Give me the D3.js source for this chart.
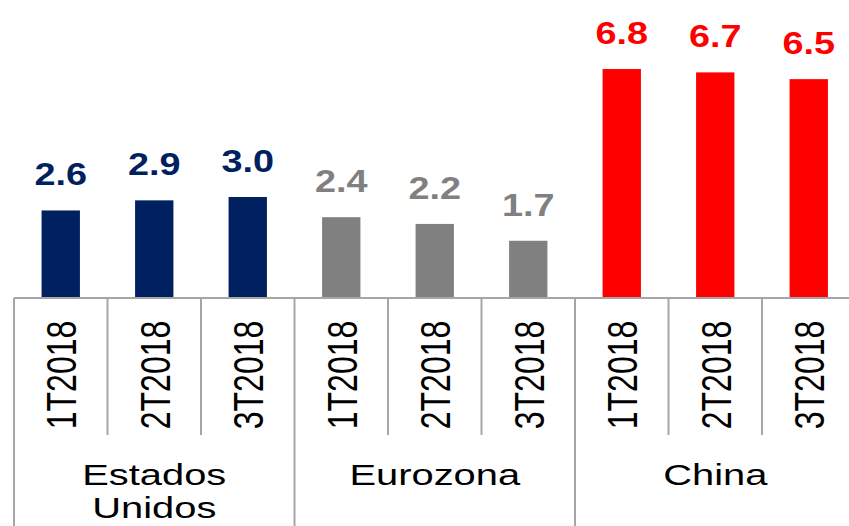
<!DOCTYPE html>
<html>
<head>
<meta charset="utf-8">
<script src="https://cdn.jsdelivr.net/npm/d3@7"></script>
<style>
  body { margin: 0; background: #fff; }
  svg { display: block; font-family: "Liberation Sans", Arial, sans-serif; }
</style>
</head>
<body>
<svg id="chart" width="849" height="526"></svg>
<script>
'use strict';
// data
var groups = ['Estados Unidos', 'Eurozona', 'China'];
var quarters = ['1T2018', '2T2018', '3T2018'];
var usaValues = [2.6, 2.9, 3.0];
var euroValues = [2.4, 2.2, 1.7];
var chinaValues = [6.8, 6.7, 6.5];
var groupColors = ['#002060', '#808080', '#ff0000'];

var seriesValues = [usaValues, euroValues, chinaValues];
var rows = [];
groups.forEach(function(g, gi){
  quarters.forEach(function(q, qi){
    rows.push({key: g + '|' + q, group: g, gi: gi, quarter: q, qi: qi, value: seriesValues[gi][qi]});
  });
});

var svg = d3.select('#chart');
var axisY = 298,
    lineColor = '#a6a6a6';

var x = d3.scaleBand()
  .domain(rows.map(function(d){ return d.key; }))
  .range([14, 14 + 93.5 * rows.length])
  .padding(0);

var y = d3.scaleLinear()
  .domain([0, 8.85])
  .range([axisY, 0]);

var barW = x.bandwidth() * 0.41;
var fmt = d3.format('.1f');

// bars
svg.append('g').selectAll('rect')
  .data(rows)
  .enter()
  .append('rect')
  .attr('x', function(d){ return x(d.key) + (x.bandwidth() - barW) / 2; })
  .attr('y', function(d){ return y(d.value); })
  .attr('width', barW)
  .attr('height', function(d){ return y(0) - y(d.value); })
  .style('fill', function(d){ return groupColors[d.gi]; });

// value labels
svg.append('g').selectAll('text')
  .data(rows)
  .enter()
  .append('text')
  .attr('transform', function(d){
    return 'translate(' + (x(d.key) + x.bandwidth() / 2) + ',' + (y(d.value) - 25) + ') scale(1.22,1)';
  })
  .style('text-anchor', 'middle')
  .style('font-weight', 'bold')
  .style('font-size', '31px')
  .style('fill', function(d){ return groupColors[d.gi]; })
  .text(function(d){ return fmt(d.value); });

// axis base line
svg.append('line')
  .attr('x1', x.range()[0]).attr('x2', x.range()[1])
  .attr('y1', axisY).attr('y2', axisY)
  .style('stroke', lineColor).style('stroke-width', 2);

// separators
var edges = rows.map(function(d){ return {x: x(d.key), group: d.qi === 0}; });
edges.push({x: x.range()[1], group: true});
svg.append('g').selectAll('line')
  .data(edges)
  .enter()
  .append('line')
  .attr('x1', function(d){ return d.x; })
  .attr('x2', function(d){ return d.x; })
  .attr('y1', axisY)
  .attr('y2', function(d){ return d.group ? 526 : 435; })
  .style('stroke', lineColor)
  .style('stroke-width', 2);

// quarter labels (rotated)
svg.append('g').selectAll('text')
  .data(rows)
  .enter()
  .append('text')
  .attr('transform', function(d){
    return 'translate(' + (x(d.key) + x.bandwidth() / 2) + ',375) scale(1.35,1) rotate(-90)';
  })
  .attr('dy', '0.36em')
  .style('text-anchor', 'middle')
  .style('font-size', '32px')
  .style('fill', '#000')
  .text(function(d){ return d.quarter; });

// group labels
svg.append('g').selectAll('text')
  .data(groups)
  .enter()
  .append('text')
  .attr('transform', function(d, i){
    var first = x(rows[i * 3].key), last = x(rows[i * 3 + 2].key) + x.bandwidth();
    return 'translate(' + ((first + last) / 2) + ',485) scale(1.33,1)';
  })
  .style('text-anchor', 'middle')
  .style('font-size', '30px')
  .style('fill', '#000')
  .each(function(d){
    var words = d === 'Estados Unidos' ? d.split(' ') : [d];
    var t = d3.select(this);
    words.forEach(function(w, wi){
      t.append('tspan').attr('x', 0).attr('dy', wi === 0 ? 0 : 33).text(w);
    });
  });
</script>
</body>
</html>
